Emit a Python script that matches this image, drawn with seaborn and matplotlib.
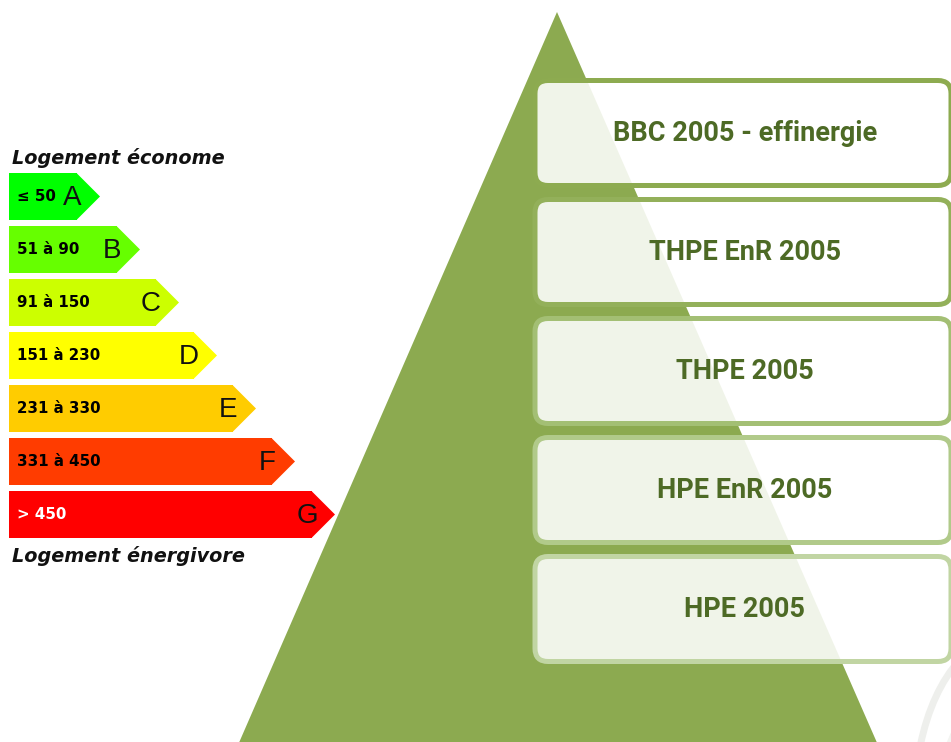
import matplotlib
matplotlib.use("Agg")
import matplotlib.pyplot as plt
import seaborn as sns
from matplotlib.patches import Polygon, FancyBboxPatch, Arc

# Energy label classes (left)
classes = ["A", "B", "C", "D", "E", "F", "G"]
ranges = ["≤ 50", "51 à 90", "91 à 150", "151 à 230", "231 à 330", "331 à 450", "> 450"]
bar_len = [68, 108, 147, 185, 224, 263, 303]
class_colors = ["#00ff00", "#66ff00", "#ccff00", "#ffff00", "#ffcc00", "#ff3c00", "#ff0000"]
range_colors = ["black"] * 6 + ["white"]

# Labels in the pyramid (top to bottom)
levels = ["BBC 2005 - effinergie", "THPE EnR 2005", "THPE 2005", "HPE EnR 2005", "HPE 2005"]
level_edges = ["#8dab50", "#93b05a", "#a3bf74", "#b1ca8a", "#c1d5a3"]

GREEN = "#8caa50"
TEXT_GREEN = "#4d6a25"
W, H = 951, 742

sns.set_theme(style="white")
fig = plt.figure(figsize=(W / 100, H / 100), dpi=100)

# background axes in pixel coordinates
ax = fig.add_axes([0, 0, 1, 1])
ax.set_xlim(0, W)
ax.set_ylim(H, 0)
ax.axis("off")

# faint swirl in the bottom right corner
ax.add_patch(Arc((1010, 800), 190, 330, theta1=150, theta2=250, color="#eeefec", lw=5, zorder=0))
ax.add_patch(Arc((1060, 820), 250, 330, theta1=150, theta2=220, color="#f3f4f1", lw=4, zorder=0))

# pyramid
ax.add_patch(Polygon([(557, 12), (238, 745), (878, 745)], closed=True,
                     facecolor=GREEN, edgecolor="none", zorder=1))

# level boxes
for i, (name, ec) in enumerate(zip(levels, level_edges)):
    top = 80.5 + i * 119
    box = FancyBboxPatch((535, top), 416, 105,
                         boxstyle="round,pad=0,rounding_size=13",
                         facecolor=(1, 1, 1, 0.88), edgecolor=ec, lw=3.6, zorder=2)
    ax.add_patch(box)
    ax.text(745, top + 53, name, ha="center", va="center", color=TEXT_GREEN,
            fontsize=19.5, fontweight="bold", family="Roboto", zorder=3)

ax.text(12, 158, "Logement économe", ha="left", va="center", fontsize=13.9,
        fontweight="bold", fontstyle="italic", family="DejaVu Sans", color="#111111")
ax.text(12, 556, "Logement énergivore", ha="left", va="center", fontsize=13.9,
        fontweight="bold", fontstyle="italic", family="DejaVu Sans", color="#111111")

# energy label arrows
axl = fig.add_axes([0, 1 - 541 / H, 340 / W, 371 / H])
axl.patch.set_alpha(0)
sns.barplot(x=bar_len, y=classes, hue=classes, palette=class_colors, orient="h",
            width=0.887, linewidth=0, saturation=1, legend=False, ax=axl)
hh = 0.887 / 2
for i, (ln, c) in enumerate(zip(bar_len, class_colors)):
    axl.add_patch(Polygon([(ln - 0.5, i - hh), (ln + 23, i), (ln - 0.5, i + hh)],
                          closed=True, facecolor=c, edgecolor="none"))
    axl.text(8, i, ranges[i], ha="left", va="center", fontsize=10.8,
             fontweight="bold", family="DejaVu Sans", color=range_colors[i])
    axl.text(ln - 5, i + 0.03, classes[i], ha="center", va="center", fontsize=20,
             family="Liberation Sans", color="#111111")
axl.set_xlim(-9, 331)
axl.set_ylim(6.5, -0.5)
axl.axis("off")

fig.savefig("out.png", dpi=100)
